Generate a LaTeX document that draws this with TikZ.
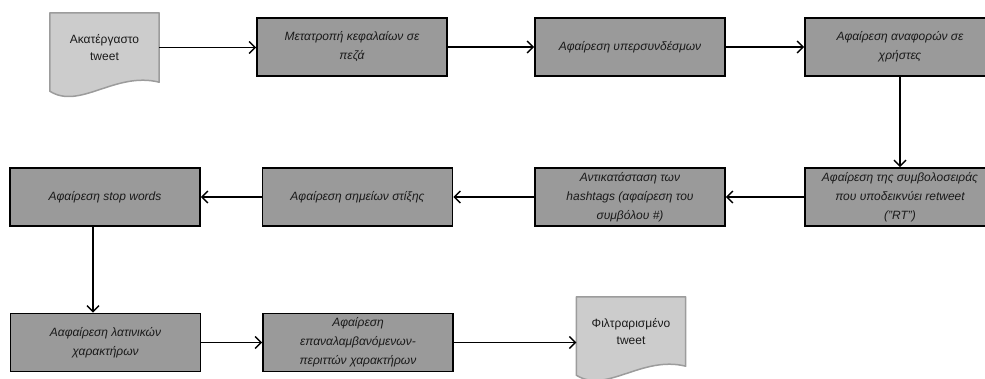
\documentclass[tikz,border=0pt]{standalone}
\usepackage{fontspec}
\setmainfont{Liberation Sans}
\usetikzlibrary{arrows.meta,backgrounds}
\definecolor{procgray}{HTML}{9A9A9A}
\definecolor{docgray}{HTML}{CCCCCC}
\definecolor{docborder}{HTML}{9C9C9C}
\definecolor{txt}{HTML}{1A1A1A}
\begin{document}
\begin{tikzpicture}[x=1pt,y=-1pt,
  proc/.style={draw=black, line width=1.8pt, fill=procgray, minimum width=190pt,
    minimum height=58pt, inner sep=0pt, align=center, text=txt,
    font=\fontsize{12}{19}\selectfont\itshape},
  docnode/.style={minimum width=109pt, minimum height=69pt, inner sep=0pt,
    align=center, text=txt, font=\fontsize{12}{17}\selectfont},
  docshape/.style={draw=docborder, line width=1.5pt, fill=docgray, line join=round},
  flow/.style={line width=1.4pt, draw=black, -{Straight Barb[length=6pt,width=12pt,line width=1.4pt]}}]
\useasboundingbox (0,0) rectangle (985,378);

% documents
\node[docnode] (raw) at (104.5,47.5) {Ακατέργαστο\\tweet};
\node[docnode] (out) at (631,331.5) {Φιλτραρισμένο\\tweet};
\begin{scope}[on background layer]
  \foreach \d in {raw,out}{
    \draw[docshape] (\d.south east) -- (\d.north east) -- (\d.north west)
      -- ([yshift=-9pt]\d.south west) .. controls +(30,19) and +(-44,-11) .. (\d.south east) -- cycle;
  }
\end{scope}

% process boxes
\node[proc] (b1) at (352,47) {Μετατροπή κεφαλαίων σε\\πεζά};
\node[proc] (b2) at (630,47) {Αφαίρεση υπερσυνδέσμων};
\node[proc] (b3) at (900,47) {Αφαίρεση αναφορών σε\\χρήστες};
\node[proc] (b4) at (900,197) {Αφαίρεση της συμβολοσειράς\\που υποδεικνύει retweet\\("RT")};
\node[proc] (b5) at (630,197) {Αντικατάσταση των\\hashtags (αφαίρεση του\\συμβόλου \#)};
\node[proc] (b6) at (357.5,197) {Αφαίρεση σημείων στίξης};
\node[proc] (b7) at (105,197) {Αφαίρεση stop words};
\node[proc] (b8) at (105.5,342.5) {Ααφαίρεση λατινικών\\χαρακτήρων};
\node[proc] (b9) at (358,342.5) {Αφαίρεση\\επαναλαμβανόμενων-\\περιττών χαρακτήρων};

% connectors
\draw[flow] (raw.east) -- (raw.east -| b1.west);
\draw[flow] (b1) -- (b2);
\draw[flow] (b2) -- (b3);
\draw[flow] (b3) -- (b4);
\draw[flow] (b4) -- (b5);
\draw[flow] (b5) -- (b6);
\draw[flow] (b6) -- (b7);
\draw[flow] ([xshift=-12pt]b7.south) -- ([xshift=-12pt]b7.south |- b8.north);
\draw[flow] (b8) -- (b9);
\draw[flow] (b9.east) -- (b9.east -| out.west);
\end{tikzpicture}
\end{document}
